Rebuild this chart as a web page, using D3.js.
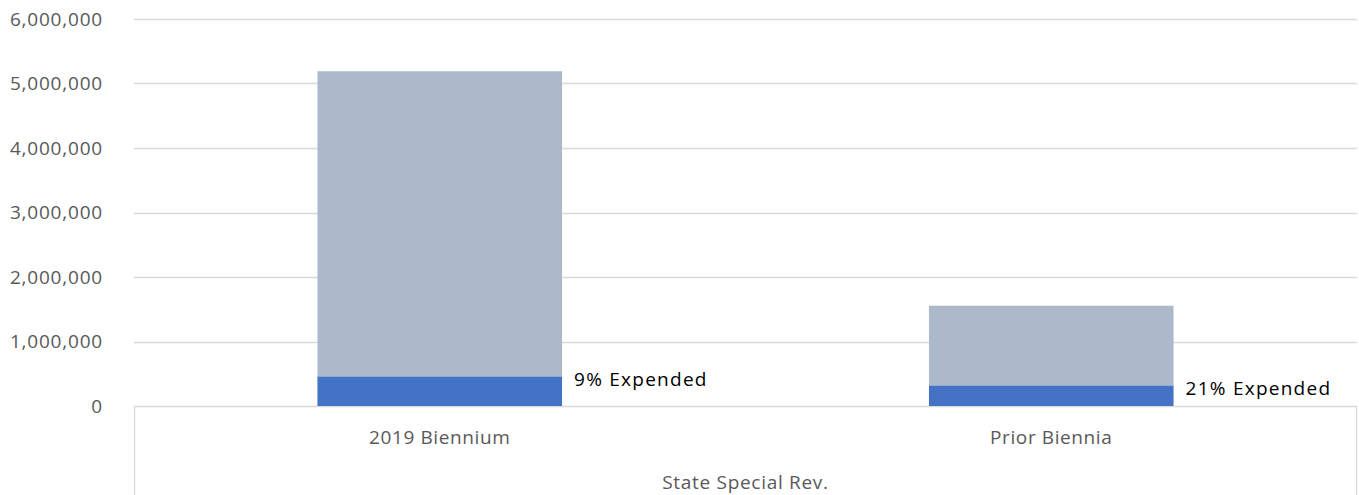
<!DOCTYPE html>
<html>
<head>
<meta charset="utf-8">
<script src="https://cdn.jsdelivr.net/npm/d3@7"></script>
<style>
  html, body { margin: 0; padding: 0; background: #fff; }
  svg { display: block; font-family: "Open Sans", "Noto Sans", sans-serif; }
</style>
</head>
<body>
<svg id="chart" width="1359" height="495"></svg>
<script>
// Categories and values
const categories = ["2019 Biennium", "Prior Biennia"];
const groupLabel = "State Special Rev.";
const totals = [5190000, 1555000];     // full appropriation per category
const expended = [460000, 320000];     // amount spent so far
const yTicks = [0, 1000000, 2000000, 3000000, 4000000, 5000000, 6000000];

const rows = categories.map((c, i) => ({
  category: c,
  expended: expended[i],
  remaining: totals[i] - expended[i],
  total: totals[i]
}));

const svg = d3.select("#chart");
const W = 1359, H = 495;
const plotLeft = 134, plotRight = 1357, plotTop = 19, plotBase = 406;

const x = d3.scaleBand()
  .domain(categories)
  .range([plotLeft, plotRight])
  .paddingInner(0.6)
  .paddingOuter(0.3);

const y = d3.scaleLinear().domain([0, 6000000]).range([plotBase, plotTop]);

// Gridlines
svg.append("g")
  .selectAll("line")
  .data(yTicks)
  .join("line")
  .attr("x1", plotLeft).attr("x2", plotRight)
  .attr("y1", d => Math.round(y(d)) + 0.5)
  .attr("y2", d => Math.round(y(d)) + 0.5)
  .attr("stroke", "#d9d9d9")
  .attr("stroke-width", 1.3);

// Y axis labels
const fmt = d3.format(",");
svg.append("g")
  .selectAll("text")
  .data(yTicks)
  .join("text")
  .attr("x", 103)
  .attr("y", d => y(d))
  .attr("dy", "0.35em")
  .attr("text-anchor", "end")
  .attr("fill", "#595959")
  .attr("font-size", 19)
  .attr("letter-spacing", 0.8)
  .text(d => fmt(d));

// Stacked bars
const stack = d3.stack().keys(["expended", "remaining"]);
const series = stack(rows);
const colors = { expended: "#4472c4", remaining: "#adb9ca" };

svg.append("g")
  .selectAll("g")
  .data(series)
  .join("g")
  .attr("fill", d => colors[d.key])
  .selectAll("rect")
  .data(d => d)
  .join("rect")
  .attr("x", d => x(d.data.category))
  .attr("width", x.bandwidth())
  .attr("y", d => y(d[1]))
  .attr("height", d => y(d[0]) - y(d[1]));

// Expended share labels
svg.append("g")
  .selectAll("text")
  .data(rows)
  .join("text")
  .attr("x", d => x(d.category) + x.bandwidth() + 12)
  .attr("y", d => y(d.expended) + 1)
  .attr("dy", "0.45em")
  .attr("fill", "#000")
  .attr("font-size", 19)
  .attr("letter-spacing", 1.25)
  .text(d => Math.round(d.expended / d.total * 100) + "% Expended");

// Category axis box
const axis = svg.append("g").attr("stroke", "#d9d9d9").attr("stroke-width", 1.3).attr("fill", "none");
axis.append("line").attr("x1", plotLeft + 0.5).attr("x2", plotLeft + 0.5).attr("y1", plotBase).attr("y2", H);
axis.append("line").attr("x1", plotRight - 0.5).attr("x2", plotRight - 0.5).attr("y1", plotBase).attr("y2", H);

svg.append("g")
  .selectAll("text")
  .data(categories)
  .join("text")
  .attr("x", d => x(d) + x.bandwidth() / 2)
  .attr("y", 437)
  .attr("dy", "0.35em")
  .attr("text-anchor", "middle")
  .attr("fill", "#595959")
  .attr("font-size", 19)
  .attr("letter-spacing", 0.6)
  .text(d => d);

svg.append("text")
  .attr("x", (plotLeft + plotRight) / 2)
  .attr("y", 482)
  .attr("dy", "0.35em")
  .attr("text-anchor", "middle")
  .attr("fill", "#595959")
  .attr("font-size", 19)
  .attr("letter-spacing", 0.7)
  .text(groupLabel);
</script>
</body>
</html>
